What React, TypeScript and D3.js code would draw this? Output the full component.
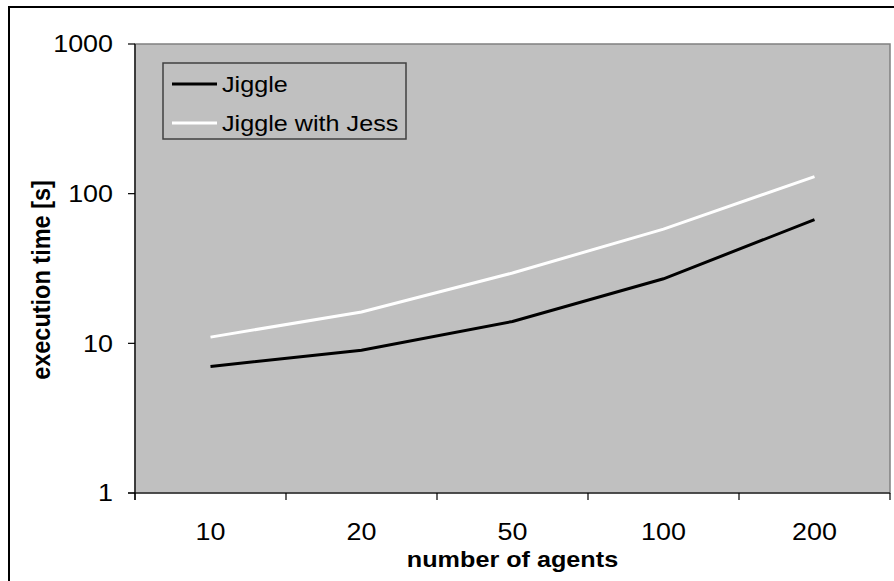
import React from 'react'
import {scaleBand, scaleLog, line} from 'd3'

const agents = ['10', '20', '50', '100', '200']
const jiggle = [7, 9, 14, 27, 67]
const jiggleJess = [11, 16.2, 29.5, 58, 130]
const yTicks = [1, 10, 100, 1000]
const seriesNames = ['Jiggle', 'Jiggle with Jess']
const seriesColors = ['#000000', '#ffffff']

const W = 894
const H = 581
const left = 135
const right = 890
const top = 44
const bottom = 493
// the source chart's text looks slightly stretched horizontally
const sx = 1.12

const Txt = ({x, y, anchor = 'start', size = 23, bold = false, children, central = false}: any) => (
    <g transform={`translate(${x},${y}) scale(${sx},1)`}>
        <text textAnchor={anchor} fontSize={size} fontWeight={bold ? 'bold' : 'normal'}
            dominantBaseline={central ? 'central' : 'auto'}>{children}</text>
    </g>
)

const App = () => {
    const x = scaleBand().domain(agents).range([left, right])
    const y = scaleLog().domain([1, 1000]).range([bottom, top])

    const path = line<number>()
        .x((d, i) => x(agents[i])! + x.bandwidth() / 2)
        .y(d => y(d))

    const font = 'Liberation Sans, Arial, sans-serif'
    const boundaries = [...agents.map(a => x(a)!), right]

    return (
        <svg width={W} height={H} style={{position: 'absolute', left: 0, top: 0}} fontFamily={font}>
            <rect width={W} height={H} fill="#fff" />
            <rect x={9} y={7} width={W + 20} height={H + 20} fill="none" stroke="#000" strokeWidth={2} />

            <rect x={left} y={top} width={right - left} height={bottom - top} fill="#c0c0c0" stroke="#808080" strokeWidth={1.5} />

            {[jiggle, jiggleJess].map((s, i) => (
                <path key={i} d={path(s)!} fill="none" stroke={seriesColors[i]} strokeWidth={3} />
            ))}

            {/* axes */}
            <line x1={left} x2={left} y1={top} y2={bottom + 7} stroke="#000" strokeWidth={1.2} />
            <line x1={left - 7} x2={right} y1={bottom} y2={bottom} stroke="#000" strokeWidth={1.2} />
            {yTicks.map(t => (
                <g key={t}>
                    <line x1={left - 7} x2={left} y1={y(t)} y2={y(t)} stroke="#000" strokeWidth={1.2} />
                    <Txt x={113} y={y(t)} anchor="end" size={24} central>{t}</Txt>
                </g>
            ))}
            {boundaries.map((b, i) => (
                <line key={i} x1={b} x2={b} y1={bottom} y2={bottom + 7} stroke="#000" strokeWidth={1.2} />
            ))}
            {agents.map(a => (
                <Txt key={a} x={x(a)! + x.bandwidth() / 2} y={540} anchor="middle" size={24}>{a}</Txt>
            ))}

            <Txt x={(left + right) / 2} y={567} anchor="middle" size={22.5} bold>number of agents</Txt>
            <g transform={`translate(50,280) scale(${sx},1) rotate(-90)`}>
                <text textAnchor="middle" fontSize={23.5} fontWeight="bold">execution time [s]</text>
            </g>

            {/* legend */}
            <rect x={163} y={63} width={243} height={76} fill="#c0c0c0" stroke="#404040" strokeWidth={1.5} />
            {seriesNames.map((n, i) => (
                <g key={n}>
                    <line x1={172} x2={217} y1={84 + i * 39} y2={84 + i * 39} stroke={seriesColors[i]} strokeWidth={3} />
                    <Txt x={222} y={84 + i * 39} size={22.5} central>{n}</Txt>
                </g>
            ))}
        </svg>
    )
}

export default App
